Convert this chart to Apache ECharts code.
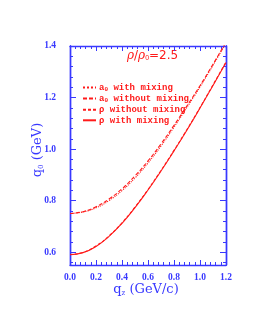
<!DOCTYPE html>
<html><head><meta charset="utf-8">
<script src="https://cdn.jsdelivr.net/npm/echarts@6/dist/echarts.min.js"></script>
<style>html,body{margin:0;padding:0;background:#fff}#c{width:253px;height:327px}</style>
</head><body><div id="c"></div>
<script>
const qz = [0, 0.1, 0.2, 0.3, 0.4, 0.5, 0.6, 0.7, 0.8, 0.9, 1.0, 1.1, 1.2];
const a0With    = [0.750, 0.756, 0.772, 0.800, 0.839, 0.888, 0.946, 1.012, 1.085, 1.162, 1.241, 1.325, 1.412];
const a0Without = [0.750, 0.757, 0.776, 0.806, 0.846, 0.896, 0.954, 1.020, 1.092, 1.168, 1.246, 1.329, 1.415];
const rhoWithout= [0.591, 0.599, 0.624, 0.663, 0.714, 0.775, 0.843, 0.917, 0.995, 1.076, 1.161, 1.249, 1.338];
const rhoWith   = [0.590, 0.598, 0.622, 0.661, 0.712, 0.773, 0.841, 0.915, 0.993, 1.074, 1.159, 1.247, 1.336];
const yMajor = [0.6, 0.8, 1.0, 1.2, 1.4];
const yMinor = [0.56, 0.64, 0.68, 0.72, 0.76, 0.84, 0.88, 0.92, 0.96, 1.04, 1.08, 1.12, 1.16, 1.24, 1.28, 1.32, 1.36];
const BLUE = '#3838ff', RED = '#ff1a1a';
const pairs = a => qz.map((q, i) => [q, a[i]]);
const chart = echarts.init(document.getElementById('c'), null, {renderer: 'canvas'});
const labelFont = {color: BLUE, fontFamily: 'Liberation Serif', fontWeight: 'bold', fontSize: 9.5};
const baseY = {type: 'value', min: 0.55, max: 1.4, splitLine: {show: false}, axisLine: {show: true, lineStyle: {color: BLUE, width: 1.4}}};
const legendRich = {sub: {fontSize: 6, verticalAlign: 'bottom', padding: [4, 0, 0, 0], color: RED, fontFamily: 'Liberation Mono', fontWeight: 'bold'}};
function line(name, data, type, width) {
  return {name, type: 'line', data: pairs(data), symbol: 'none', showSymbol: false, smooth: true, clip: true,
    lineStyle: {color: RED, width: width, type: type}, itemStyle: {color: RED}};
}
chart.setOption({
  animation: false,
  grid: {left: 70, top: 46, right: 27, bottom: 62},
  xAxis: [
    {type: 'value', min: 0, max: 1.2, interval: 0.2, position: 'bottom',
     axisLine: {lineStyle: {color: BLUE, width: 1.4}}, splitLine: {show: false},
     axisTick: {inside: true, length: 5, lineStyle: {color: BLUE}},
     minorTick: {show: true, splitNumber: 5, length: 3, lineStyle: {color: BLUE}},
     axisLabel: Object.assign({margin: 8, formatter: v => v.toFixed(1)}, labelFont)},
    {type: 'value', min: 0, max: 1.2, interval: 0.2, position: 'top',
     axisLine: {show: true, lineStyle: {color: BLUE, width: 1.4}}, splitLine: {show: false},
     axisTick: {inside: true, length: 5, lineStyle: {color: BLUE}},
     minorTick: {show: true, splitNumber: 5, length: 3, lineStyle: {color: BLUE}},
     axisLabel: {show: false}}
  ],
  yAxis: [
    Object.assign({}, baseY, {position: 'left',
      axisTick: {inside: true, length: 6, customValues: yMajor, lineStyle: {color: BLUE}},
      axisLabel: Object.assign({margin: 14, customValues: yMajor, formatter: v => v.toFixed(1)}, labelFont)}),
    Object.assign({}, baseY, {position: 'left',
      axisTick: {inside: true, length: 3, customValues: yMinor, lineStyle: {color: BLUE}},
      axisLabel: {show: false}}),
    Object.assign({}, baseY, {position: 'right',
      axisTick: {inside: true, length: 6, customValues: yMajor, lineStyle: {color: BLUE}},
      axisLabel: {show: false}}),
    Object.assign({}, baseY, {position: 'right',
      axisTick: {inside: true, length: 3, customValues: yMinor, lineStyle: {color: BLUE}},
      axisLabel: {show: false}})
  ],
  legend: {orient: 'vertical', left: 77, top: 78, itemWidth: 13, itemHeight: 8, itemGap: 1.6,
    itemStyle: {opacity: 0},
    data: ['a0w', 'a0wo', 'rhowo', 'rhow'],
    formatter: n => ({a0w: 'a{sub|0} with mixing', a0wo: 'a{sub|0} without mixing', rhowo: 'ρ without mixing', rhow: 'ρ with mixing'})[n],
    textStyle: {color: RED, fontFamily: 'Liberation Mono', fontWeight: 'bold', fontSize: 9, padding: [0, 0, 0, -2], rich: legendRich}},
  series: [
    line('a0w', a0With, 'dotted', 1.1),
    line('a0wo', a0Without, [4, 2], 1.1),
    line('rhowo', rhoWithout, [3, 2], 1.1),
    line('rhow', rhoWith, 'solid', 1.1)
  ],
  graphic: [
    {type: 'text', left: 127, top: 50, style: {text: '{i|ρ}/{i|ρ}{s|0}=2.5', fill: RED,
      font: '12px "DejaVu Sans"', rich: {i: {fontStyle: 'italic', fontSize: 12, fontFamily: 'DejaVu Serif', fill: RED}, s: {fontSize: 7, verticalAlign: 'bottom', padding: [5, 0, 0, 0], fill: RED}}}},
    {type: 'text', x: 146, y: 290, style: {text: 'q{s|z} (GeV/c)', fill: BLUE, align: 'center', verticalAlign: 'middle',
      font: '13px "DejaVu Serif"', rich: {s: {fontSize: 7, verticalAlign: 'bottom', padding: [6, 0, 0, 0], fill: BLUE, fontFamily: 'DejaVu Serif'}}}},
    {type: 'text', x: 38, y: 150, rotation: Math.PI / 2, style: {text: 'q{s|0} (GeV)', fill: BLUE, align: 'center', verticalAlign: 'middle',
      font: '13px "DejaVu Serif"', rich: {s: {fontSize: 7, verticalAlign: 'bottom', padding: [6, 0, 0, 0], fill: BLUE, fontFamily: 'DejaVu Serif'}}}}
  ]
});
</script></body></html>
